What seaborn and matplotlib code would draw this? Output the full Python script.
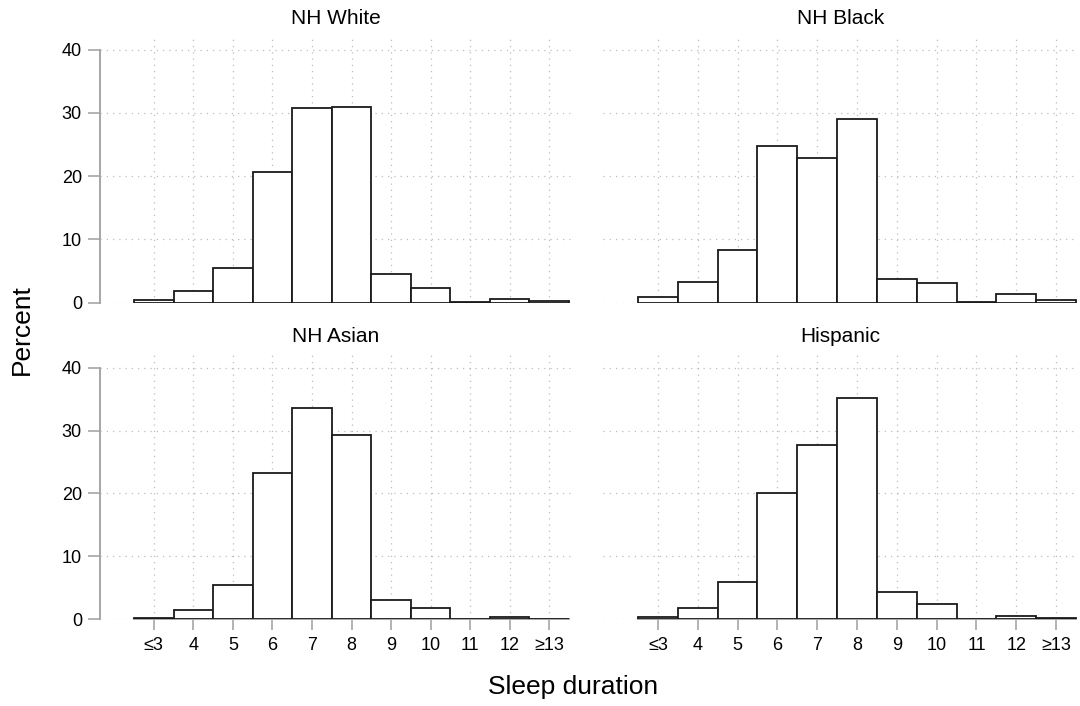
import matplotlib
matplotlib.use("Agg")
import matplotlib.pyplot as plt
import seaborn as sns
import pandas as pd

hours = [3, 4, 5, 6, 7, 8, 9, 10, 11, 12, 13]
tick_labels = ["≤3", "4", "5", "6", "7", "8", "9", "10", "11", "12", "≥13"]
groups = ["NH White", "NH Black", "NH Asian", "Hispanic"]
nh_white = [0.4, 1.8, 5.5, 20.7, 30.8, 30.9, 4.6, 2.4, 0.1, 0.6, 0.2]
nh_black = [0.9, 3.2, 8.3, 24.7, 22.9, 29.1, 3.8, 3.1, 0.1, 1.4, 0.4]
nh_asian = [0.2, 1.5, 5.5, 23.3, 33.6, 29.3, 3.1, 1.8, 0.0, 0.3, 0.05]
hispanic = [0.4, 1.8, 5.9, 20.0, 27.7, 35.2, 4.3, 2.5, 0.1, 0.6, 0.2]
y_ticks = [0, 10, 20, 30, 40]

series = [nh_white, nh_black, nh_asian, hispanic]

sns.set_theme(style="white")
plt.rcParams["font.family"] = ["Liberation Sans", "DejaVu Sans"]
plt.rcParams["text.color"] = "black"
plt.rcParams["axes.labelcolor"] = "black"
plt.rcParams["xtick.color"] = "black"
plt.rcParams["ytick.color"] = "black"

fig = plt.figure(figsize=(10.8, 7.06), dpi=100)
W, H = 1080, 706
# pixel boxes: (left, top, right, bottom)
boxes = [
    (100, 37, 571, 302.7),
    (603, 37, 1078, 302.7),
    (100, 355, 571, 619.3),
    (603, 355, 1078, 619.3),
]
grid_col = "#bdbdbd"
axis_col = "#a6a6a6"

for i, (name, vals, box) in enumerate(zip(groups, series, boxes)):
    l, t, r, b = box
    ax = fig.add_axes([l / W, 1 - b / H, (r - l) / W, (b - t) / H])
    df = pd.DataFrame({"hours": hours, "pct": vals})
    sns.histplot(data=df, x="hours", weights="pct", discrete=True, shrink=1,
                 stat="count", color="white", edgecolor="#1a1a1a",
                 linewidth=1.3, alpha=1, ax=ax, zorder=3)
    xmin = 1.64 if i % 2 == 0 else 1.62
    ax.set_xlim(xmin, 13.55)
    ax.set_ylim(0, 42)
    ax.set_xlabel("")
    ax.set_ylabel("")
    ax.set_title(name, fontsize=15, pad=9, color="black")
    ax.set_xticks(hours)
    ax.set_yticks(y_ticks)
    for x in hours:
        ax.axvline(x, color=grid_col, lw=0.9, ls=(0, (1, 4)), zorder=0)
    for y in y_ticks:
        ax.axhline(y, color=grid_col, lw=0.9, ls=(0, (1, 4)), zorder=0)
    for s in ["top", "right"]:
        ax.spines[s].set_visible(False)
    if i % 2 == 0:
        ax.spines["left"].set_visible(True)
        ax.spines["left"].set_color(axis_col)
        ax.spines["left"].set_linewidth(1.4)
        ax.spines["left"].set_bounds(0, 40)
        ax.tick_params(axis="y", left=True, length=9, width=1.2, color=axis_col,
                       labelsize=13, pad=4, labelcolor="black")
    else:
        ax.spines["left"].set_visible(False)
        ax.tick_params(axis="y", left=False, labelleft=False)
    if i >= 2:
        ax.spines["bottom"].set_visible(True)
        ax.spines["bottom"].set_color(axis_col)
        ax.spines["bottom"].set_linewidth(1.4)
        ax.spines["bottom"].set_bounds(2.5, 13.5)
        ax.spines["bottom"].set_zorder(1)
        ax.set_xticklabels(tick_labels)
        ax.tick_params(axis="x", bottom=True, length=8, width=1.2, color=axis_col,
                       labelsize=13, pad=5, labelcolor="black")
    else:
        ax.spines["bottom"].set_visible(False)
        ax.tick_params(axis="x", bottom=False, labelbottom=False)
    ax.set_facecolor("white")

fig.text(22 / W, 1 - 330 / H, "Percent", rotation=90, fontsize=19,
         ha="center", va="center", color="black")
fig.text(573 / W, 1 - 687 / H, "Sleep duration", fontsize=19,
         ha="center", va="center", color="black")

fig.savefig("out.png", dpi=100, facecolor="white")
